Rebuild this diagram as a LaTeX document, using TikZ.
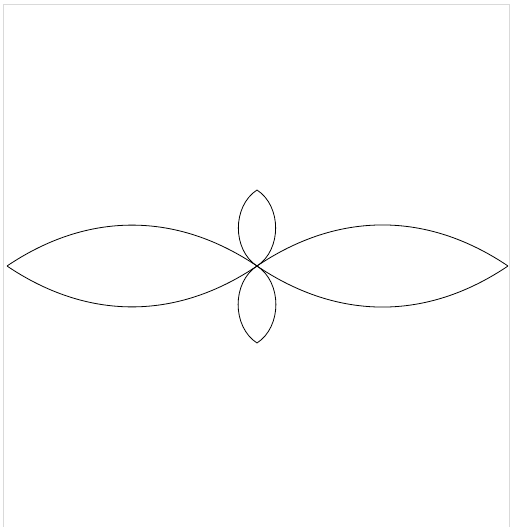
\documentclass[tikz,border=0pt]{standalone}
\usepackage{tikz}

\begin{document}
\begin{tikzpicture}[
    x=1pt, y=-1pt,
    petal/.style={draw=black, line width=0.8pt},
    frame/.style={draw=black!15, line width=1pt}
]
\useasboundingbox (0,0) rectangle (510,527);

% Frame
\draw[frame] (3,527) -- (3,4.5) -- (509,4.5) -- (509,527);

% Points of the petals
\coordinate (c) at (257,266);
\coordinate (west) at (7,266);
\coordinate (east) at (508,266);
\coordinate (north) at (257,190);
\coordinate (south) at (257,343);

% Large petals
\draw[petal] (west) to[bend left=34] (c) to[bend left=34] (west);
\draw[petal] (east) to[bend left=34] (c) to[bend left=34] (east);

% Small petals
\draw[petal] (north) to[bend left=57] (c) to[bend left=57] (north);
\draw[petal] (south) to[bend left=57] (c) to[bend left=57] (south);

\end{tikzpicture}
\end{document}
